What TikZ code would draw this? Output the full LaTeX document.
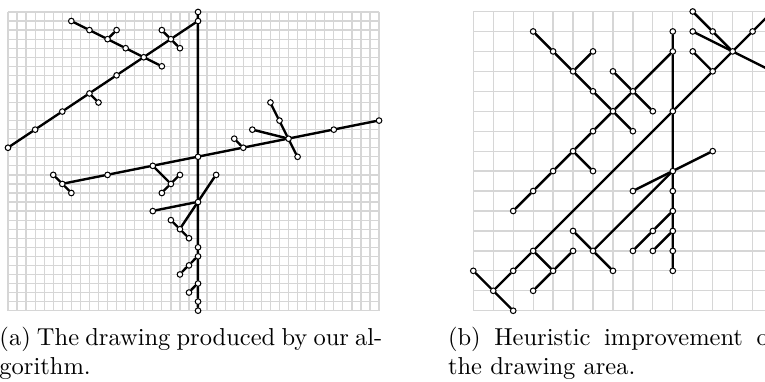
\documentclass[tikz,border=0pt]{standalone}
\definecolor{gridgray}{RGB}{214,214,214}
\pgfdeclarelayer{gridlayer}
\pgfdeclarelayer{edgelayer}
\pgfsetlayers{gridlayer,edgelayer,main}
\tikzset{
  gridline/.style={draw=gridgray, line width=0.5pt},
  edge/.style={draw=black, line width=0.98pt, line cap=round, line join=round},
  vtx/.style={circle, draw=black, fill=white, line width=0.42pt, inner sep=0pt, minimum size=2.3pt},
  capt/.style={anchor=base west, inner sep=0pt, font=\fontsize{10}{12}\selectfont},
}
\begin{document}
\begin{tikzpicture}[x=0.4082pt, y=-0.4082pt]
\useasboundingbox (0,0) rectangle (765,382);
\clip (0,0) rectangle (765,382);
% ---------------- left drawing (a)
\begin{scope}[shift={(8,12)}, scale=9.05]
  \begin{pgfonlayer}{gridlayer}
    \foreach \k in {0,...,41} \draw[gridline] (\k,0) -- (\k,33);
    \foreach \k in {0,...,33} \draw[gridline] (0,\k) -- (41,\k);
  \end{pgfonlayer}
  \foreach \i/\j in {21/0, 21/1, 7/1, 9/2, 12/2, 11/3, 13/4, 15/5, 17/6, 17/2, 18/3, 19/4,
                     12/7, 9/9, 10/10, 6/11, 3/13, 0/15, 21/16, 26/15, 25/14, 31/14, 27/13,
                     30/12, 29/10, 32/16, 36/13, 41/12, 16/17, 11/18, 6/19, 5/18, 7/20,
                     19/18, 18/19, 17/20, 23/18, 21/21, 16/22, 18/23, 19/24, 20/25, 21/26,
                     21/27, 20/28, 19/29, 21/30, 20/31, 21/32, 21/33}
    \node[vtx] (a\i-\j) at (\i,\j) {};
  \begin{pgfonlayer}{edgelayer}
    \draw[edge] (a7-1) -- (a9-2) -- (a11-3) -- (a13-4) -- (a15-5) -- (a17-6);
    \draw[edge] (a11-3) -- (a12-2);
    \draw[edge] (a0-15) -- (a3-13) -- (a6-11) -- (a9-9) -- (a12-7) -- (a15-5) -- (a18-3) -- (a21-1);
    \draw[edge] (a9-9) -- (a10-10);
    \draw[edge] (a17-2) -- (a18-3) -- (a19-4);
    \draw[edge] (a21-0) -- (a21-1);
    \draw[edge] (a21-1) -- (a21-16) -- (a21-21) -- (a21-26) -- (a21-27) -- (a21-30) -- (a21-32) -- (a21-33);
    \draw[edge] (a6-19) -- (a11-18) -- (a16-17) -- (a21-16) -- (a26-15) -- (a31-14) -- (a36-13) -- (a41-12);
    \draw[edge] (a26-15) -- (a25-14);
    \draw[edge] (a31-14) -- (a27-13);
    \draw[edge] (a29-10) -- (a30-12) -- (a31-14) -- (a32-16);
    \draw[edge] (a5-18) -- (a6-19) -- (a7-20);
    \draw[edge] (a16-17) -- (a18-19);
    \draw[edge] (a19-18) -- (a18-19) -- (a17-20);
    \draw[edge] (a21-21) -- (a23-18);
    \draw[edge] (a21-21) -- (a16-22);
    \draw[edge] (a21-21) -- (a19-24);
    \draw[edge] (a18-23) -- (a19-24) -- (a20-25);
    \draw[edge] (a21-27) -- (a20-28) -- (a19-29);
    \draw[edge] (a21-30) -- (a20-31);
  \end{pgfonlayer}
\end{scope}
% ---------------- right drawing (b)
\begin{scope}[shift={(473.3,11.5)}, scale=19.95]
  \begin{pgfonlayer}{gridlayer}
    \foreach \k in {0,...,15} \draw[gridline] (\k,0) -- (\k,15);
    \foreach \k in {0,...,15} \draw[gridline] (0,\k) -- (15,\k);
  \end{pgfonlayer}
  \foreach \i/\j in {3/1, 4/2, 6/2, 5/3, 6/4, 7/3, 7/5, 8/4, 9/5, 10/1, 10/2, 6/6, 5/7, 8/6,
                     11/0, 11/1, 12/1, 13/2, 14/1, 15/0, 15/3, 11/2, 12/3, 10/5, 12/7, 6/8,
                     4/8, 3/9, 2/10, 5/11, 6/12, 7/13, 3/12, 2/13, 0/13, 1/14, 2/15, 4/13,
                     5/12, 3/14, 10/8, 8/9, 10/9, 10/10, 9/11, 10/11, 8/12, 9/12, 10/12, 10/13}
    \node[vtx] (b\i-\j) at (\i,\j) {};
  \begin{pgfonlayer}{edgelayer}
    \draw[edge] (b3-1) -- (b4-2) -- (b5-3) -- (b6-4) -- (b7-5) -- (b8-6);
    \draw[edge] (b5-3) -- (b6-2);
    \draw[edge] (b2-10) -- (b3-9) -- (b4-8) -- (b5-7) -- (b6-6) -- (b7-5) -- (b8-4) -- (b10-2);
    \draw[edge] (b7-3) -- (b8-4) -- (b9-5);
    \draw[edge] (b5-7) -- (b6-8);
    \draw[edge] (b10-1) -- (b10-2) -- (b10-5) -- (b10-8) -- (b10-9) -- (b10-10) -- (b10-11) -- (b10-12) -- (b10-13);
    \draw[edge] (b1-14) -- (b2-13) -- (b3-12) -- (b10-5) -- (b12-3) -- (b13-2) -- (b14-1) -- (b15-0);
    \draw[edge] (b11-0) -- (b12-1) -- (b13-2);
    \draw[edge] (b11-1) -- (b13-2) -- (b15-3);
    \draw[edge] (b11-2) -- (b12-3);
    \draw[edge] (b12-7) -- (b10-8) -- (b8-9);
    \draw[edge] (b10-8) -- (b6-12);
    \draw[edge] (b5-11) -- (b6-12) -- (b7-13);
    \draw[edge] (b3-12) -- (b4-13);
    \draw[edge] (b5-12) -- (b4-13) -- (b3-14);
    \draw[edge] (b0-13) -- (b1-14) -- (b2-15);
    \draw[edge] (b10-10) -- (b9-11) -- (b8-12);
    \draw[edge] (b10-11) -- (b9-12);
  \end{pgfonlayer}
\end{scope}
% ---------------- captions
\node[capt] (capa1) at (-1,345) {\makebox[156.3pt][s]{(a) The drawing produced by our al-}};
\node[capt] (capa2) at (-1,374) {gorithm.};
\node[capt] (capb1) at (447.6,345) {\makebox[134pt][s]{(b) Heuristic improvement of}};
\node[capt] (capb2) at (447.6,374) {the drawing area.};
\end{tikzpicture}
\end{document}
